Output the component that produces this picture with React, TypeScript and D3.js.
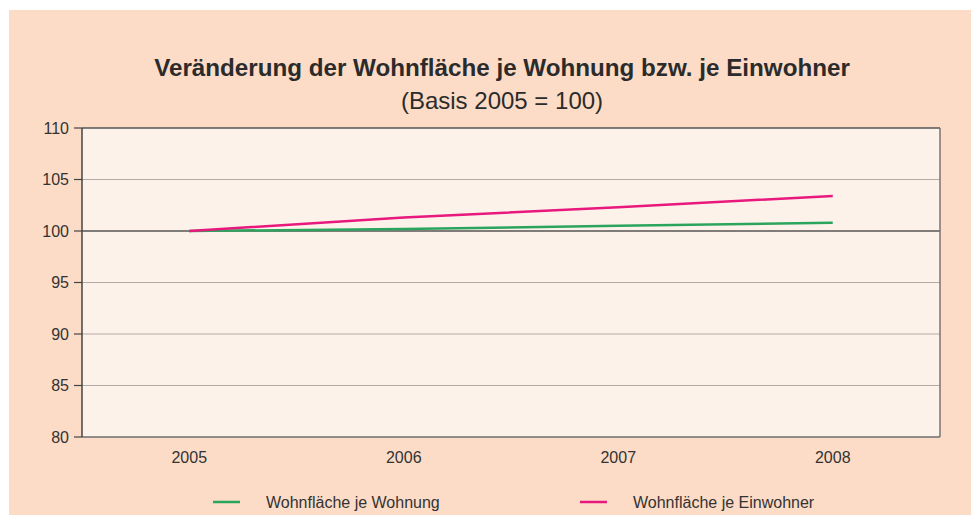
import React from "react";
import * as d3 from "d3";

const years = ["2005", "2006", "2007", "2008"];
const wohnung = [100, 100.2, 100.5, 100.8];
const einwohner = [100, 101.3, 102.3, 103.4];
const yTicks = [80, 85, 90, 95, 100, 105, 110];

const series = [
  { name: "Wohnfläche je Wohnung", values: wohnung, color: "#2ba55e" },
  { name: "Wohnfläche je Einwohner", values: einwohner, color: "#e8187c" },
];

const W = 979;
const H = 523;
const m = { left: 82, right: 39, top: 128, bottom: 86 };

export default function App() {
  const x = d3
    .scaleBand<string>()
    .domain(years)
    .range([m.left, W - m.right]);
  const y = d3
    .scaleLinear()
    .domain([80, 110])
    .range([H - m.bottom, m.top]);

  const line = d3
    .line<number>()
    .x((_, i) => (x(years[i]) as number) + x.bandwidth() / 2)
    .y((d) => y(d));

  const font = "'Liberation Sans', Arial, sans-serif";

  return (
    <div style={{ margin: -8 }}>
      <svg width={W} height={H} style={{ display: "block", fontFamily: font }}>
        <rect x={0} y={0} width={W} height={H} fill="#ffffff" />
        <rect x={9} y={10} width={W - 9} height={H - 10} fill="#fcdcc6" />
        <rect
          x={m.left}
          y={m.top}
          width={W - m.left - m.right}
          height={H - m.top - m.bottom}
          fill="#fdf2ea"
        />
        <text x={502} y={76} textAnchor="middle" fontSize={24.2} fontWeight="bold" fill="#2b2b2b">
          Veränderung der Wohnfläche je Wohnung bzw. je Einwohner
        </text>
        <text x={502} y={109} textAnchor="middle" fontSize={24} fill="#2b2b2b">
          (Basis 2005 = 100)
        </text>

        {yTicks.map((t) => (
          <g key={t}>
            <line
              x1={m.left}
              x2={W - m.right}
              y1={y(t)}
              y2={y(t)}
              stroke={t === 100 || t === 110 ? "#555" : t === 80 ? "#6e6e6e" : "#b3aaa3"}
              strokeWidth={t === 100 || t === 110 || t === 80 ? 1.5 : 1}
            />
            <line x1={m.left - 8} x2={m.left} y1={y(t)} y2={y(t)} stroke="#444" strokeWidth={1.2} />
            <text x={m.left - 13} y={y(t)} dy="0.35em" textAnchor="end" fontSize={16} fill="#333">
              {t}
            </text>
          </g>
        ))}
        <line x1={m.left} x2={m.left} y1={m.top} y2={H - m.bottom} stroke="#444" strokeWidth={1.5} />
        <line
          x1={W - m.right}
          x2={W - m.right}
          y1={m.top}
          y2={H - m.bottom}
          stroke="#7a7370"
          strokeWidth={1.5}
        />

        {years.map((yr) => (
          <text
            key={yr}
            x={(x(yr) as number) + x.bandwidth() / 2}
            y={463}
            textAnchor="middle"
            fontSize={16}
            fill="#333"
          >
            {yr}
          </text>
        ))}

        {series.map((s) => (
          <path key={s.name} d={line(s.values) || ""} fill="none" stroke={s.color} strokeWidth={2.5} />
        ))}

        {series.map((s, i) => {
          const lx = 213 + i * 367;
          return (
            <g key={s.name}>
              <line x1={lx} x2={lx + 27} y1={502} y2={502} stroke={s.color} strokeWidth={2.5} />
              <text x={lx + 53} y={502} dy="0.35em" fontSize={16} fill="#333">
                {s.name}
              </text>
            </g>
          );
        })}
      </svg>
    </div>
  );
}
